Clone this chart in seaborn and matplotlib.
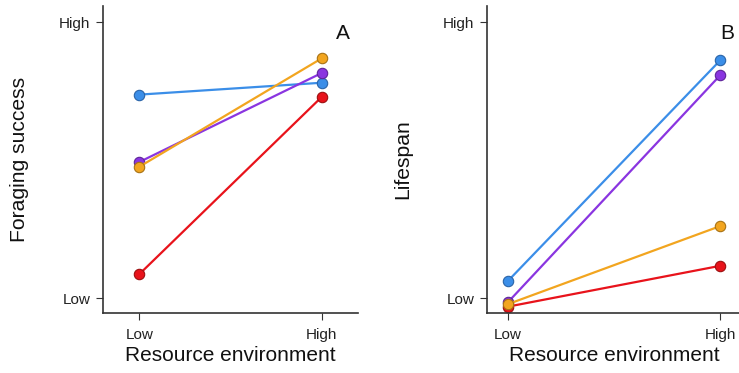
import matplotlib
matplotlib.use("Agg")
import matplotlib.pyplot as plt
import seaborn as sns
import pandas as pd

# Resource environment levels (x positions 0 = Low, 1 = High)
env_levels = ["Low", "High"]
groups = ["red", "blue", "purple", "orange"]

# Foraging success per group at Low / High resource environment
foraging_red = [0.087, 0.728]
foraging_blue = [0.737, 0.780]
foraging_purple = [0.493, 0.815]
foraging_orange = [0.476, 0.868]

# Lifespan per group at Low / High resource environment
lifespan_red = [-0.031, 0.117]
lifespan_blue = [0.062, 0.862]
lifespan_purple = [-0.015, 0.808]
lifespan_orange = [-0.022, 0.261]

palette = {"red": "#e8131b", "blue": "#3b8ee8", "purple": "#8a35e0", "orange": "#f2a51f"}
edge = {"red": "#9c1010", "blue": "#2a64a8", "purple": "#5e2499", "orange": "#a87214"}


def build(series):
    rows = []
    for g, vals in zip(groups, series):
        for i, v in enumerate(vals):
            rows.append({"env": i, "value": v, "group": g})
    return pd.DataFrame(rows)


df_a = build([foraging_red, foraging_blue, foraging_purple, foraging_orange])
df_b = build([lifespan_red, lifespan_blue, lifespan_purple, lifespan_orange])

sns.set_style("white")
plt.rcParams["font.family"] = ["Liberation Sans", "DejaVu Sans"]
plt.rcParams["text.color"] = "#111111"
plt.rcParams["axes.labelcolor"] = "#111111"
plt.rcParams["xtick.color"] = "#222222"
plt.rcParams["ytick.color"] = "#222222"

fig = plt.figure(figsize=(7.39, 3.73), dpi=100)
ax_a = fig.add_axes([0.1394, 0.1609, 0.345, 0.823])
ax_b = fig.add_axes([0.6586, 0.1609, 0.345, 0.823])


def draw(ax, df, ylabel, letter, xlim, letter_x):
    for g in groups:
        sub = df[df["group"] == g]
        sns.lineplot(data=sub, x="env", y="value", ax=ax, color=palette[g],
                     linewidth=1.6, marker="o", markersize=7.5,
                     markeredgecolor=edge[g], markeredgewidth=0.8,
                     legend=False)
    ax.set_xlim(*xlim)
    ax.set_ylim(-0.054, 1.058)
    ax.set_xticks([0, 1])
    ax.set_xticklabels(env_levels)
    ax.set_yticks([0, 1])
    ax.set_yticklabels(["Low", "High"])
    ax.set_xlabel("Resource environment", fontsize=15, labelpad=3)
    ax.set_ylabel(ylabel, fontsize=15.2, labelpad=22)
    ax.tick_params(axis="both", labelsize=11, length=5, width=0.8,
                   direction="out", color="#333333",
                   bottom=True, left=True)
    ax.tick_params(axis="x", pad=6)
    ax.tick_params(axis="y", pad=4)
    for side in ("top", "right"):
        ax.spines[side].set_visible(False)
    for side in ("left", "bottom"):
        ax.spines[side].set_color("#333333")
        ax.spines[side].set_linewidth(1.2)
    ax.text(letter_x, 0.96, letter, fontsize=15, ha="center", va="center",
            transform=ax.transData)


draw(ax_a, df_a, "Foraging success", "A", (-0.2, 1.2), 1.115)
draw(ax_b, df_b, "Lifespan", "B", (-0.1, 1.1), 1.03)

fig.savefig("out.png", dpi=100)
